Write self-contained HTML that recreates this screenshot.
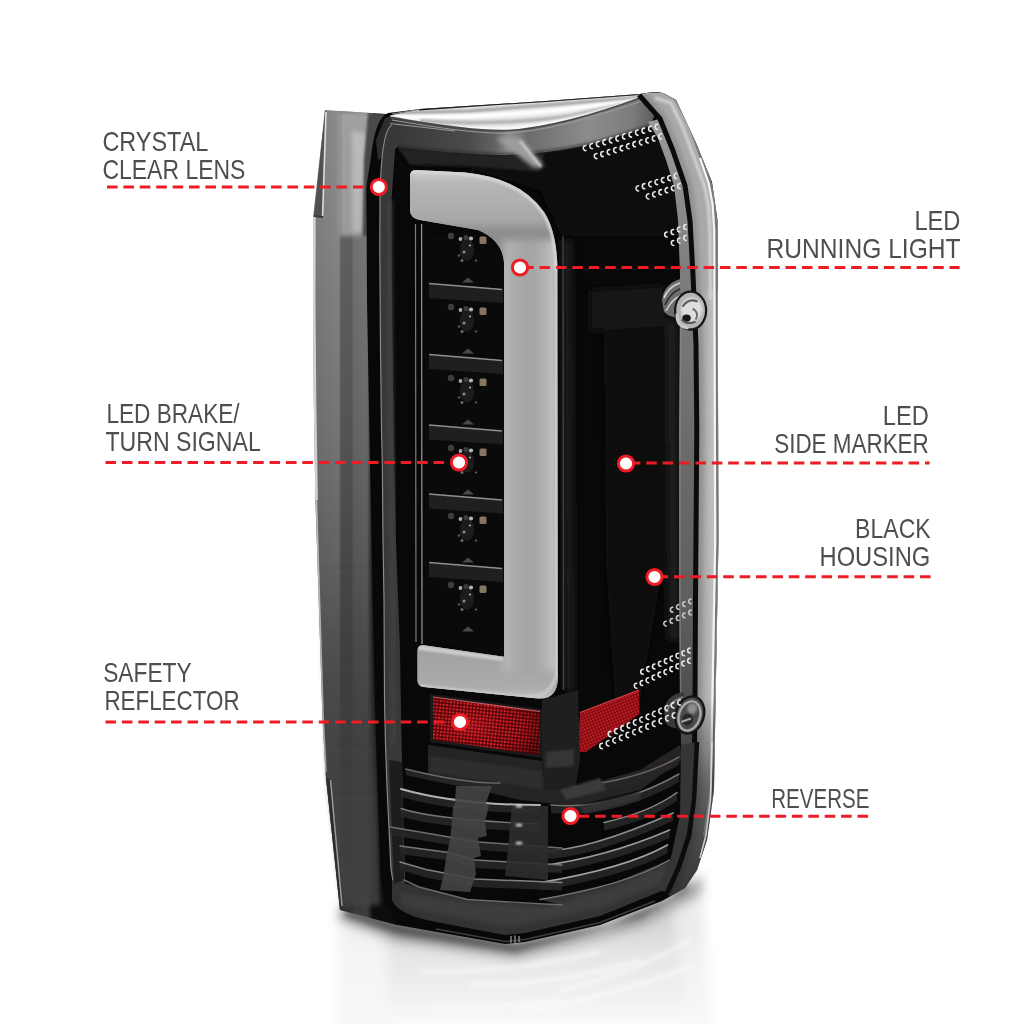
<!DOCTYPE html>
<html><head><meta charset="utf-8"><title>LED Tail Light Features</title>
<style>
html,body{margin:0;padding:0;background:#fff;}
body{width:1024px;height:1024px;overflow:hidden;font-family:"Liberation Sans",sans-serif;}
svg{display:block}
</style></head><body>
<svg width="1024" height="1024" viewBox="0 0 1024 1024">
<rect width="1024" height="1024" fill="#fff"/>

<defs>
<filter id="b1" x="-20%" y="-20%" width="140%" height="140%"><feGaussianBlur stdDeviation="1"/></filter>
<filter id="b2" x="-20%" y="-20%" width="140%" height="140%"><feGaussianBlur stdDeviation="2"/></filter>
<filter id="b3" x="-20%" y="-20%" width="140%" height="140%"><feGaussianBlur stdDeviation="3.5"/></filter>
<filter id="b6" x="-30%" y="-30%" width="160%" height="160%"><feGaussianBlur stdDeviation="6"/></filter>
<filter id="b12" x="-30%" y="-60%" width="160%" height="220%"><feGaussianBlur stdDeviation="12"/></filter>
<linearGradient id="gFl" gradientUnits="userSpaceOnUse" x1="313" x2="373" y1="0" y2="0">
 <stop offset="0" stop-color="#7c7c7c"/><stop offset=".075" stop-color="#828282"/>
 <stop offset=".43" stop-color="#8a8a8a"/><stop offset=".47" stop-color="#646464"/><stop offset=".64" stop-color="#626262"/><stop offset=".68" stop-color="#767676"/><stop offset=".9" stop-color="#7c7c7c"/><stop offset=".96" stop-color="#444"/><stop offset="1" stop-color="#1a1a1a"/>
</linearGradient>
<linearGradient id="gFlV" gradientUnits="userSpaceOnUse" x1="0" x2="0" y1="110" y2="925">
 <stop offset="0" stop-color="#000" stop-opacity="0"/><stop offset=".15" stop-color="#000" stop-opacity=".04"/>
 <stop offset=".4" stop-color="#000" stop-opacity=".16"/><stop offset=".6" stop-color="#000" stop-opacity=".32"/>
 <stop offset=".75" stop-color="#000" stop-opacity=".46"/><stop offset=".86" stop-color="#000" stop-opacity=".56"/><stop offset="1" stop-color="#000" stop-opacity=".5"/>
</linearGradient>
<linearGradient id="gBarV" x1="0" x2="1" y1="0" y2="0">
 <stop offset="0" stop-color="#c9c9c9"/><stop offset=".12" stop-color="#a9a9a9"/><stop offset=".5" stop-color="#a2a2a2"/>
 <stop offset=".82" stop-color="#b4b4b4"/><stop offset="1" stop-color="#d0d0d0"/>
</linearGradient>
<linearGradient id="gRightEdge" x1="0" x2="1" y1="0" y2="0">
 <stop offset="0" stop-color="#8e8e8e"/><stop offset=".55" stop-color="#b4b4b4"/><stop offset=".75" stop-color="#e8e8e8"/><stop offset=".9" stop-color="#bdbdbd"/><stop offset="1" stop-color="#6a6a6a"/>
</linearGradient>
<pattern id="pRed" width="3.4" height="3.4" patternUnits="userSpaceOnUse" patternTransform="rotate(6)">
 <rect width="3.4" height="3.4" fill="#4c0509"/><circle cx="1.7" cy="1.7" r="1.15" fill="#ea2630"/>
</pattern>
<pattern id="pRed2" width="3" height="3" patternUnits="userSpaceOnUse" patternTransform="rotate(-22)">
 <rect width="3" height="3" fill="#6a090e"/><circle cx="1.5" cy="1.5" r="1.0" fill="#e42630"/>
</pattern>
</defs>

<defs><linearGradient id="gRef" gradientUnits="userSpaceOnUse" x1="0" x2="0" y1="925" y2="1030"><stop offset="0" stop-color="#d6d6d6"/><stop offset=".3" stop-color="#e6e6e6"/><stop offset=".7" stop-color="#f1f1f1"/><stop offset="1" stop-color="#fcfcfc"/></linearGradient></defs>
<g filter="url(#b6)"><path d="M342 905 L520 940 L640 915 L700 884 L712 1040 L334 1040 Z" fill="url(#gRef)"/><path d="M338 915 L386 930 L390 1040 L336 1040 Z" fill="#f8f8f8" opacity=".8"/><path d="M672 905 L704 880 L716 1040 L690 1040 Z" fill="#f8f8f8" opacity=".6"/></g>
<g filter="url(#b2)" opacity=".7" stroke="#fff" fill="none" stroke-width="3"><path d="M560 990 Q630 975 690 940"/><path d="M520 1012 Q620 995 694 965"/><path d="M470 985 Q560 985 640 960"/><path d="M430 1005 Q500 1008 560 1000"/><path d="M420 972 Q520 972 600 952"/></g>
<g filter="url(#b6)"><path d="M338 908 L400 926 L515 946 L610 926 L668 901 L702 874 L700 894 L640 926 L515 958 L395 940 L340 920 Z" fill="#8a8a8a" opacity=".8"/></g>
<g filter="url(#b3)"><path d="M345 908 L400 924 L515 944 L610 924 L668 899 L690 882 L686 892 L640 918 L515 952 L398 934 L345 916 Z" fill="#3a3a3a" opacity=".8"/></g>
<path d="M325 110 L386 114 L400 160 L400 900 L397 925 L340 910 L325.7 775 L322.5 719 L318.5 594 L315.4 500 L313.8 400 L313 300 L313.2 216 Z" fill="url(#gFl)"/>
<clipPath id="cFl"><path d="M325 110 L386 114 L400 160 L400 900 L397 925 L340 910 L325.7 775 L322.5 719 L318.5 594 L315.4 500 L313.8 400 L313 300 L313.2 216 Z"/></clipPath><g clip-path="url(#cFl)">
<path d="M339 111 L372 113 L366 160 L362 236 L339 236 Z" fill="#a0a0a0" filter="url(#b2)"/>
<path d="M352 130 L366 135 L362 232 L352 232 Z" fill="#bcbcbc" filter="url(#b2)"/>
<path d="M368 113 L386 114 L372 150 L367 236 L363 236 L364 160 Z" fill="#4a4a4a" filter="url(#b1)"/>
</g>
<path d="M325 110 L314 216 L322.5 216 L326.5 112 Z" fill="#525252"/>
<path d="M326 112 L322.6 216" stroke="#e2e2e2" stroke-width="1.6"/>
<path d="M314 216 L323 217" stroke="#3a3a3a" stroke-width="2"/>
<path d="M325 110 L386 114 L400 160 L400 900 L397 925 L340 910 L325.7 775 L322.5 719 L318.5 594 L315.4 500 L313.8 400 L313 300 L313.2 216 Z" fill="url(#gFlV)"/>
<path d="M314.4 217 L314.2 300 L315 400 L316.6 500" stroke="#dcdcdc" stroke-width="2.6" fill="none" opacity=".9"/>
<path d="M316.4 500 L319.3 594 L323.2 719 L326.2 772" stroke="#c4c4c4" stroke-width="1.6" fill="none" opacity=".9"/>
<defs><linearGradient id="gFlLow" gradientUnits="userSpaceOnUse" x1="0" x2="0" y1="560" y2="800"><stop offset="0" stop-color="#484848" stop-opacity="0"/><stop offset="1" stop-color="#424242" stop-opacity=".85"/></linearGradient></defs>
<path d="M319 560 L372 560 L380 905 L342 906 L327 775 Z" fill="url(#gFlLow)" filter="url(#b2)"/>
<path d="M326 778 L330 779 L342 908 L340 910 Z" fill="#2c2c2c"/>
<path d="M330.5 780 L342 906" stroke="#9a9a9a" stroke-width="1.5"/>
<path d="M372 150 Q376 118 388 113 L420 109 L546 101 L640 94 Q655 91 663 93 L676 100 L697 145 L712 182 L717.5 220 L718.5 540 L714 790 L707 840 L697 870 L685 888 L662 901 L600 925 L525 942 L505 944 L397 925 L386 905 L380.7 880 L378 800 L375.4 722 L374 650 L371.5 540 L370 462 L367 300 L366.4 187 Z" fill="#080808"/>
<defs>
<linearGradient id="gTopLens" x1="0" x2="0" y1="0" y2="1">
 <stop offset="0" stop-color="#fafafa"/><stop offset=".3" stop-color="#e9e9e9"/><stop offset=".5" stop-color="#bdbdbd"/><stop offset=".72" stop-color="#f4f4f4"/><stop offset="1" stop-color="#c4c4c4"/>
</linearGradient>
<linearGradient id="gBevel" gradientUnits="userSpaceOnUse" x1="385" x2="660" y1="0" y2="0">
 <stop offset="0" stop-color="#2c2c2c"/><stop offset=".06" stop-color="#3a3a3a"/><stop offset=".3" stop-color="#4a4a4a"/><stop offset=".4" stop-color="#626262"/><stop offset=".45" stop-color="#8c8c8c"/><stop offset=".52" stop-color="#6c6c6c"/>
 <stop offset=".74" stop-color="#8c8c8c"/><stop offset=".9" stop-color="#7c7c7c"/><stop offset="1" stop-color="#555"/>
</linearGradient>
<linearGradient id="gStrip" gradientUnits="userSpaceOnUse" x1="0" x2="0" y1="130" y2="900">
 <stop offset="0" stop-color="#989898"/><stop offset=".18" stop-color="#7e7e7e"/><stop offset=".4" stop-color="#6c6c6c"/><stop offset=".62" stop-color="#5e5e5e"/><stop offset=".8" stop-color="#464646"/><stop offset="1" stop-color="#333"/>
</linearGradient>
<linearGradient id="gEdgeR" gradientUnits="userSpaceOnUse" x1="698" x2="719" y1="0" y2="0">
 <stop offset="0" stop-color="#a2a2a2"/><stop offset=".55" stop-color="#b6b6b6"/><stop offset=".7" stop-color="#c4c4c4"/><stop offset="1" stop-color="#b0b0b0"/>
</linearGradient>
<linearGradient id="gEdgeRV" gradientUnits="userSpaceOnUse" x1="0" x2="0" y1="90" y2="900">
 <stop offset="0" stop-color="#000" stop-opacity="0"/><stop offset=".75" stop-color="#000" stop-opacity="0"/><stop offset=".86" stop-color="#000" stop-opacity=".45"/><stop offset="1" stop-color="#000" stop-opacity=".7"/>
</linearGradient>
<linearGradient id="gBar" gradientUnits="userSpaceOnUse" x1="504" x2="558" y1="0" y2="0">
 <stop offset="0" stop-color="#c4c4c4"/><stop offset=".1" stop-color="#adadad"/><stop offset=".5" stop-color="#a4a4a4"/><stop offset=".8" stop-color="#b2b2b2"/><stop offset=".94" stop-color="#cbcbcb"/><stop offset="1" stop-color="#9c9c9c"/>
</linearGradient>
<linearGradient id="gBarTop" gradientUnits="userSpaceOnUse" x1="0" x2="0" y1="168" y2="232">
 <stop offset="0" stop-color="#d2d2d2"/><stop offset=".25" stop-color="#b6b6b6"/><stop offset=".8" stop-color="#a8a8a8"/><stop offset="1" stop-color="#8e8e8e"/>
</linearGradient>
<linearGradient id="gBarBot" gradientUnits="userSpaceOnUse" x1="0" x2="0" y1="640" y2="700">
 <stop offset="0" stop-color="#c2c2c2"/><stop offset=".2" stop-color="#a2a2a2"/><stop offset=".8" stop-color="#acacac"/><stop offset="1" stop-color="#c6c6c6"/>
</linearGradient>
<linearGradient id="gFrameL" gradientUnits="userSpaceOnUse" x1="376" x2="396" y1="0" y2="0">
 <stop offset="0" stop-color="#111"/><stop offset=".2" stop-color="#161616"/><stop offset=".24" stop-color="#8a8a8a"/><stop offset=".3" stop-color="#333"/><stop offset=".8" stop-color="#3a3a3a"/><stop offset="1" stop-color="#141414"/>
</linearGradient>
<radialGradient id="gRedGlow" cx=".35" cy=".5" r=".7">
 <stop offset="0" stop-color="#ff2a34" stop-opacity=".32"/><stop offset=".55" stop-color="#900" stop-opacity=".08"/><stop offset="1" stop-color="#200" stop-opacity=".5"/>
</radialGradient>
<filter id="b05"><feGaussianBlur stdDeviation=".55"/></filter>
<clipPath id="cBody"><path d="M372 150 Q376 118 388 113 L420 109 L546 101 L640 94 Q655 91 663 93 L676 100 L697 145 L712 182 L717.5 220 L718.5 540 L714 790 L707 840 L697 870 L685 888 L662 901 L600 925 L525 942 L505 944 L397 925 L386 905 L380.7 880 L378 800 L375.4 722 L374 650 L371.5 540 L370 462 L367 300 L366.4 187 Z"/></clipPath>
</defs>
<g clip-path="url(#cBody)">
<path d="M397 147 L474 154 L522 155 L582 146 L650 126 L690 200 L680 236 L562 236 L540 190 L470 168 L410 166 Z" fill="#101010" filter="url(#b2)"/>
<path d="M397 147 L474 154 L522 155 L545 152 L540 172 L470 166 L410 164 Z" fill="#242424" filter="url(#b1)"/>
<g filter="url(#b3)"><path d="M604 322 L662 320 L664 560 L640 700 L615 700 L606 560 Z" fill="#0f0f0f"/><path d="M665 320 L678 318 L680 640 L668 640 Z" fill="#1c1c1c"/><path d="M590 290 L664 285 L668 326 L590 331 Z" fill="#141414"/><path d="M562 240 L572 240 L574 690 L564 690 Z" fill="#1e1e1e"/></g>
<path d="M563 236 L563.5 690" stroke="#4a4a4a" stroke-width="1.4" opacity=".85"/>
<path d="M385 118 L391 116 C420 122 460 130 500 130.5 C540 131 600 113 640 96 L656 112 L650 126 L610 139 Q560 154 500 155 Q460 154 397 147 L378 160 L376 140 Z" fill="url(#gBevel)"/>
<path d="M397 146 Q460 153 500 154 Q560 153 610 138 L650 125" stroke="#2a2a2a" stroke-width="2.5" fill="none" opacity=".6" filter="url(#b1)"/>
<path d="M496 138 L520 137 L544 166 L534 168 Z" fill="#9c9c9c" filter="url(#b2)"/>
<path d="M520 141 L541 167" stroke="#d0d0d0" stroke-width="2.2" filter="url(#b1)"/>
<path d="M390 115.5 L419 109.5 L546 101 L640 94 L662 93 L640 98 C600 113 540 131 500 130.5 C460 130 420 122 391 117.5 Z" fill="#e9e9e9"/>
<clipPath id="cLens"><path d="M390 115.5 L419 109.5 L546 101 L640 94 L662 93 L640 98 C600 113 540 131 500 130.5 C460 130 420 122 391 117.5 Z"/></clipPath>
<g clip-path="url(#cLens)" fill="none"><path d="M395 113 L470 111 L560 104 L660 96" stroke="#a8a8a8" stroke-width="3.5" filter="url(#b1)"/><path d="M395 116.5 Q470 119 560 110 L650 99" stroke="#ffffff" stroke-width="4" filter="url(#b1)"/><path d="M420 121 Q500 126 570 116 L640 101" stroke="#b4b4b4" stroke-width="4" filter="url(#b1)"/><path d="M400 121 C440 128 480 130 510 128.5 C550 126 600 112 640 99" stroke="#fbfbfb" stroke-width="3.2" filter="url(#b1)"/></g>
<path d="M419 109.3 L546 100.8 L640 93.8 L661 92.6" stroke="#1c1c1c" stroke-width="2.2" fill="none"/>
<path d="M391 117.5 C420 122 460 130 500 130.7 C540 131 600 113 640 98" stroke="#4a4a4a" stroke-width="1.8" fill="none"/>
<path d="M392 120 C420 124.5 460 132.5 500 133.2 C540 133.5 600 115.5 645 100" stroke="#9a9a9a" stroke-width="1.1" fill="none"/>
<path d="M392 114 L419 109.5" stroke="#888" stroke-width="1.2"/>
<path d="M648 122 L657.8 138 L666 160 L674 185.5 L678 220 L680 275 L679.7 345 L679 430 L679 600 L679.5 650 L681 745 L694.5 745 L695 700 L695.5 600 L696.8 430 L696 345 L693 275 L690 220.6 L685 185.5 L672.7 150 L660 118.7 Z" fill="url(#gStrip)"/>
<path d="M681 300 L680.6 345 L680 430 L680 600 L680.5 700" stroke="#8a8a8a" stroke-width="1.5" fill="none" opacity=".6"/>
<path d="M638 93 L664 92.3 Q673 95 678 101 L690 124 L702.6 159 L711.4 182 L715.8 203 L717.5 230 L718.5 540 L714 790 L707 840 L697 870 L685 888 L672 897 L667 893 L679 866 L689 835 L694 790 L695 700 L695.5 600 L696.8 430 L696 345 L693 275 L690 220.6 L685 185.5 L672.7 150 L660 118.7 L639 95 Z" fill="#a9a9a9"/>
<clipPath id="cBand"><path d="M638 93 L664 92.3 Q673 95 678 101 L690 124 L702.6 159 L711.4 182 L715.8 203 L717.5 230 L718.5 540 L714 790 L707 840 L697 870 L685 888 L672 897 L667 893 L679 866 L689 835 L694 790 L695 700 L695.5 600 L696.8 430 L696 345 L693 275 L690 220.6 L685 185.5 L672.7 150 L660 118.7 L639 95 Z"/></clipPath>
<g clip-path="url(#cBand)" fill="none"><rect x="696" y="290" width="26" height="520" fill="url(#gEdgeR)" filter="url(#b2)"/><path d="M639 95 L660 118.7 L672.7 150 L685 185.5 L690 220.6 L693 275 L696 345 L696.8 430 L695.5 600 L695 700 L694 790 L689 835 L679 866 L667 893" stroke="#8a8a8a" stroke-width="14" filter="url(#b2)" opacity=".8"/><path d="M655 98 L671 103 L683 128 L696 163 L704.5 186 L708.5 206 L710 232 L710.5 300" stroke="#d2d2d2" stroke-width="3.2" filter="url(#b1)"/><path d="M664 93.5 Q673 96 677 102 L689 125 L701.6 160 L710.4 183 L714.6 204 L716.3 230 L717.3 540 L712.8 790 L706 838" stroke="#767676" stroke-width="2"/><path d="M700 158 L708.6 183 L712.6 204 L714.2 230 L715.2 540 L710.8 790 L704 836" stroke="#f4f4f4" stroke-width="2.2" filter="url(#b05)"/><path d="M640 90 L730 90 L730 910 L640 910 Z" fill="url(#gEdgeRV)"/></g>
<path d="M639 95 L660 118.7 L672.7 150 L685 185.5 L690 220.6 L693 275 L696 345 L696.8 430 L695.5 600 L695 700 L694 790 L689 835 L679 866 L667 893" stroke="#0b0b0b" stroke-width="5" fill="none" stroke-linejoin="round"/>
<path d="M392 125 Q381 130 380 200 L379.8 250 L380.5 350 L381.5 430 L382.3 462 L383 540 L384 600 L384.5 700 L385.5 745 L387 787 L391 869 L397 906 L404 900 L405 880 L403 800 L401.5 740 L400 650 L396 540 L394 462 L392 300 L391.5 200 L395 150 L397 147 L398 128 Z" fill="#383838"/>
<path d="M389 200 L388.8 250 L389.5 350 L390.5 430 L391.3 462 L392 540 L393 600 L393.5 700 L394.5 745" stroke="#404040" stroke-width="6" fill="none" filter="url(#b2)"/>
<path d="M392 125 Q381 130 380 200 L379.8 250 L380.5 350 L381.5 430 L382.3 462 L383 540 L384 600 L384.5 700 L385.5 745 L387 787 L391 869 L397 906" stroke="#8c8c8c" stroke-width="1.15" fill="none"/>
<path d="M390 123.5 L455 131" stroke="#9a9a9a" stroke-width="1" fill="none"/>
<path d="M415.5 224 L416 642" stroke="#7c7c7c" stroke-width="1.2"/>
<path d="M421.6 224 L422 644" stroke="#9a9a9a" stroke-width="1.2"/>
<path d="M425 232 L504 250 L504 657 L425 640 Z" fill="#0a0a0a"/>
<path d="M429 283 L503 289 L503 303 L429 298 Z" fill="#1f1f1f"/>
<path d="M429 283.5 L502 289.5" stroke="#8e8e8e" stroke-width="1.4"/>
<path d="M429 354 L503 360 L503 374 L429 369 Z" fill="#1f1f1f"/>
<path d="M429 354.5 L502 360.5" stroke="#8e8e8e" stroke-width="1.4"/>
<path d="M429 424.5 L503 430.5 L503 444.5 L429 439.5 Z" fill="#1f1f1f"/>
<path d="M429 425.0 L502 431.0" stroke="#8e8e8e" stroke-width="1.4"/>
<path d="M429 493.5 L503 499.5 L503 513.5 L429 508.5 Z" fill="#1f1f1f"/>
<path d="M429 494.0 L502 500.0" stroke="#8e8e8e" stroke-width="1.4"/>
<path d="M429 562 L503 568 L503 582 L429 577 Z" fill="#1f1f1f"/>
<path d="M429 562.5 L502 568.5" stroke="#8e8e8e" stroke-width="1.4"/>
<g filter="url(#b05)"><ellipse cx="467" cy="249.5" rx="7" ry="11" fill="#1f1f1f"/><rect x="479.5" y="236.5" width="7" height="7.5" rx="1.5" fill="#85775f"/><circle cx="451" cy="236.0" r="3.2" fill="#3e3e3e"/><circle cx="460.5" cy="239.0" r="1.9" fill="#a8a8a8"/><circle cx="471" cy="238.5" r="2.1" fill="#b4b4b4"/><circle cx="466" cy="237.5" r="2.6" fill="#3a3a3a"/><circle cx="470" cy="245.5" r="1.1" fill="#aaa"/><circle cx="464" cy="252.0" r="1.5" fill="#8a8a8a"/><circle cx="459" cy="255.5" r="1.3" fill="#555"/><circle cx="462" cy="260.5" r="1.5" fill="#6a6a6a"/><circle cx="476" cy="260.5" r="1.1" fill="#666"/><path d="M462 282.5 L468 277.5 L474 282.5 Z" fill="#4a4a4a"/></g>
<g filter="url(#b05)"><ellipse cx="467" cy="320.5" rx="7" ry="11" fill="#1f1f1f"/><rect x="479.5" y="307.5" width="7" height="7.5" rx="1.5" fill="#85775f"/><circle cx="451" cy="307.0" r="3.2" fill="#3e3e3e"/><circle cx="460.5" cy="310.0" r="1.9" fill="#a8a8a8"/><circle cx="471" cy="309.5" r="2.1" fill="#b4b4b4"/><circle cx="466" cy="308.5" r="2.6" fill="#3a3a3a"/><circle cx="470" cy="316.5" r="1.1" fill="#aaa"/><circle cx="464" cy="323.0" r="1.5" fill="#8a8a8a"/><circle cx="459" cy="326.5" r="1.3" fill="#555"/><circle cx="462" cy="331.5" r="1.5" fill="#6a6a6a"/><circle cx="476" cy="331.5" r="1.1" fill="#666"/><path d="M462 353.5 L468 348.5 L474 353.5 Z" fill="#4a4a4a"/></g>
<g filter="url(#b05)"><ellipse cx="467" cy="391.5" rx="7" ry="11" fill="#1f1f1f"/><rect x="479.5" y="378.5" width="7" height="7.5" rx="1.5" fill="#85775f"/><circle cx="451" cy="378.0" r="3.2" fill="#3e3e3e"/><circle cx="460.5" cy="381.0" r="1.9" fill="#a8a8a8"/><circle cx="471" cy="380.5" r="2.1" fill="#b4b4b4"/><circle cx="466" cy="379.5" r="2.6" fill="#3a3a3a"/><circle cx="470" cy="387.5" r="1.1" fill="#aaa"/><circle cx="464" cy="394.0" r="1.5" fill="#8a8a8a"/><circle cx="459" cy="397.5" r="1.3" fill="#555"/><circle cx="462" cy="402.5" r="1.5" fill="#6a6a6a"/><circle cx="476" cy="402.5" r="1.1" fill="#666"/><path d="M462 424.5 L468 419.5 L474 424.5 Z" fill="#4a4a4a"/></g>
<g filter="url(#b05)"><ellipse cx="467" cy="461.5" rx="7" ry="11" fill="#1f1f1f"/><rect x="479.5" y="448.5" width="7" height="7.5" rx="1.5" fill="#85775f"/><circle cx="451" cy="448.0" r="3.2" fill="#3e3e3e"/><circle cx="460.5" cy="451.0" r="1.9" fill="#a8a8a8"/><circle cx="471" cy="450.5" r="2.1" fill="#b4b4b4"/><circle cx="466" cy="449.5" r="2.6" fill="#3a3a3a"/><circle cx="470" cy="457.5" r="1.1" fill="#aaa"/><circle cx="464" cy="464.0" r="1.5" fill="#8a8a8a"/><circle cx="459" cy="467.5" r="1.3" fill="#555"/><circle cx="462" cy="472.5" r="1.5" fill="#6a6a6a"/><circle cx="476" cy="472.5" r="1.1" fill="#666"/><path d="M462 494.5 L468 489.5 L474 494.5 Z" fill="#4a4a4a"/></g>
<g filter="url(#b05)"><ellipse cx="467" cy="529.5" rx="7" ry="11" fill="#1f1f1f"/><rect x="479.5" y="516.5" width="7" height="7.5" rx="1.5" fill="#85775f"/><circle cx="451" cy="516.0" r="3.2" fill="#3e3e3e"/><circle cx="460.5" cy="519.0" r="1.9" fill="#a8a8a8"/><circle cx="471" cy="518.5" r="2.1" fill="#b4b4b4"/><circle cx="466" cy="517.5" r="2.6" fill="#3a3a3a"/><circle cx="470" cy="525.5" r="1.1" fill="#aaa"/><circle cx="464" cy="532.0" r="1.5" fill="#8a8a8a"/><circle cx="459" cy="535.5" r="1.3" fill="#555"/><circle cx="462" cy="540.5" r="1.5" fill="#6a6a6a"/><circle cx="476" cy="540.5" r="1.1" fill="#666"/><path d="M462 562.5 L468 557.5 L474 562.5 Z" fill="#4a4a4a"/></g>
<g filter="url(#b05)"><ellipse cx="467" cy="598.5" rx="7" ry="11" fill="#1f1f1f"/><rect x="479.5" y="585.5" width="7" height="7.5" rx="1.5" fill="#85775f"/><circle cx="451" cy="585.0" r="3.2" fill="#3e3e3e"/><circle cx="460.5" cy="588.0" r="1.9" fill="#a8a8a8"/><circle cx="471" cy="587.5" r="2.1" fill="#b4b4b4"/><circle cx="466" cy="586.5" r="2.6" fill="#3a3a3a"/><circle cx="470" cy="594.5" r="1.1" fill="#aaa"/><circle cx="464" cy="601.0" r="1.5" fill="#8a8a8a"/><circle cx="459" cy="604.5" r="1.3" fill="#555"/><circle cx="462" cy="609.5" r="1.5" fill="#6a6a6a"/><circle cx="476" cy="609.5" r="1.1" fill="#666"/><path d="M462 631.5 L468 626.5 L474 631.5 Z" fill="#4a4a4a"/></g>
<path d="M410 176 Q410 170 416 170 L465 172.5 Q520 178 544 212 Q557 232 557.5 270 L558 676 Q558 700 538 698.5 L424 687 Q417.5 686.5 417.5 680 L417.5 651 Q417.5 644.5 424 645.3 L504 656.8 L504 262 Q502 240 478 230 L420 220 Q410 218 410 210 Z" fill="#a8a8a8"/>
<clipPath id="cBar"><path d="M410 176 Q410 170 416 170 L465 172.5 Q520 178 544 212 Q557 232 557.5 270 L558 676 Q558 700 538 698.5 L424 687 Q417.5 686.5 417.5 680 L417.5 651 Q417.5 644.5 424 645.3 L504 656.8 L504 262 Q502 240 478 230 L420 220 Q410 218 410 210 Z"/></clipPath>
<g clip-path="url(#cBar)"><path d="M405 165 L470 168 Q524 176 548 210 L562 240 L500 262 Q498 240 470 230 L405 218 Z" fill="url(#gBarTop)"/><path d="M412 636 L504 655 L560 668 L560 702 L412 690 Z" fill="url(#gBarBot)"/><g filter="url(#b3)"><rect x="504" y="240" width="54" height="432" fill="url(#gBar)"/></g><path d="M505.5 262 L505.5 656" stroke="#c9c9c9" stroke-width="2.5" filter="url(#b1)"/><path d="M556 262 L556.5 676" stroke="#cdcdcd" stroke-width="3" filter="url(#b1)"/><path d="M417.5 647.5 L503 659" stroke="#cfcfcf" stroke-width="4" filter="url(#b1)"/><path d="M411 171.5 L466 174 Q520 180 543 213 Q555.5 232 556 270" stroke="#d8d8d8" stroke-width="3" fill="none" filter="url(#b1)"/><path d="M419 650 L419 684" stroke="#cfcfcf" stroke-width="2.5" filter="url(#b1)"/><path d="M420 686 L525 697 Q552 698 557 672" stroke="#c9c9c9" stroke-width="3" fill="none" filter="url(#b1)"/></g>
<path d="M430 694 L542 709 L542 758 L430 742 Z" fill="#1a1a1a"/>
<path d="M433 697 L540 711.5 L540 755 L433 739.5 Z" fill="url(#pRed)"/>
<path d="M433 697 L540 711.5 L540 755 L433 739.5 Z" fill="url(#gRedGlow)"/>
<path d="M433 697 L540 711.5" stroke="#c85a5e" stroke-width="1.2"/>
<path d="M580 712.5 L639 690 L639.5 714 L586 752 L578 752 Z" fill="url(#pRed2)"/>
<path d="M580 712.5 L639 690 L639.5 714 L586 752 L578 752 Z" fill="#d01018" opacity=".12"/>
<path d="M580 712.5 L639 690" stroke="#ff5058" stroke-width="1.2" opacity=".8"/>
</g>
<g clip-path="url(#cBody)">
<path d="M542 700 L578 690 L580 760 L575 790 L545 792 L542 760 Z" fill="#1f1f1f"/>
<path d="M546 752 L574 749 L574 766 L546 768 Z" fill="#343434" filter="url(#b1)"/>
<path d="M428 745 L542 761 L545 790 L575 788 L640 770 L680 745 L682 760 L640 790 L575 806 L520 800 L428 778 Z" fill="#242424"/>
<path d="M430 756 L542 771 L542 789 L430 772 Z" fill="#2f2f2f" filter="url(#b1)"/>
<path d="M392 880 L419 887 L467 899.5 L540 904 L562 905 L540 899.5 L615 882.6 L669 860 L684 852 L664 890 L600 916 L525 933 L505 935 L436 922 Q398 915 392 900 Z" fill="#333333"/>
<path d="M400 893 L467 903 L545 907 L615 887 L668 864 L660 884 L600 908 L525 924 L505 926 L440 914 L402 905 Z" fill="#3d3d3d" filter="url(#b2)"/>
<path d="M436 929 L505 941.5 L525 939.5 L600 922.5 L655 901" stroke="#3c3c3c" stroke-width="1.6" fill="none"/>
<path d="M511 936 L511 943 M515 935.5 L515 943 M519 936 L519 942" stroke="#a0a0a0" stroke-width="1.2" fill="none" filter="url(#b05)"/>
<path d="M389 760 L402 762 L404 880 L394 884 Z" fill="#1d1d1d"/>
<path d="M574 787 Q641.5 779.2 679 757 L679 765 Q641.5 787.2 574 795 Z" fill="#272727" opacity=".9"/>
<path d="M574 787 Q641.5 779.2 679 757" stroke="#6e6262" stroke-width="1.5" fill="none" stroke-linecap="round"/>
<path d="M551 805 Q615.0 810.5 679 774 L679 782 Q615.0 818.5 551 813 Z" fill="#272727" opacity=".9"/>
<path d="M551 805 Q615.0 810.5 679 774" stroke="#7a7070" stroke-width="1.5" fill="none" stroke-linecap="round"/>
<path d="M604 822.5 Q649.5 812.5 677 792.5 L677 800.5 Q649.5 820.5 604 830.5 Z" fill="#272727" opacity=".9"/>
<path d="M604 822.5 Q649.5 812.5 677 792.5" stroke="#8a8a8a" stroke-width="1.5" fill="none" stroke-linecap="round"/>
<path d="M540 851 Q585.5 852.0 673 813 L673 821 Q585.5 860.0 540 859 Z" fill="#272727" opacity=".9"/>
<path d="M540 851 Q585.5 852.0 673 813" stroke="#8e8e8e" stroke-width="1.7" fill="none" stroke-linecap="round"/>
<path d="M540 866 Q607.2 857.0 669.5 830 L669.5 838 Q607.2 865.0 540 874 Z" fill="#272727" opacity=".9"/>
<path d="M540 866 Q607.2 857.0 669.5 830" stroke="#9a9a9a" stroke-width="1.8" fill="none" stroke-linecap="round"/>
<path d="M540 882.6 Q626.2 868.2 667.5 845 L667.5 853 Q626.2 876.2 540 890.6 Z" fill="#272727" opacity=".9"/>
<path d="M540 882.6 Q626.2 868.2 667.5 845" stroke="#a2a2a2" stroke-width="1.8" fill="none" stroke-linecap="round"/>
<path d="M540 899.5 Q625.2 885.5 669.5 860" stroke="#777" stroke-width="1.4" fill="none" stroke-linecap="round"/>
<path d="M405.6 769 Q467.2 784.0 500 783 L500 789 Q467.2 790.0 405.6 775 Z" fill="#272727" opacity=".9"/>
<path d="M405.6 769 Q467.2 784.0 500 783" stroke="#6a6a6a" stroke-width="1.3" fill="none" stroke-linecap="round"/>
<path d="M401 789 Q457.5 805.0 540 805 L540 813 Q457.5 813.0 401 797 Z" fill="#272727" opacity=".9"/>
<path d="M401 789 Q457.5 805.0 540 805" stroke="#b0b0b0" stroke-width="2.0" fill="none" stroke-linecap="round"/>
<path d="M401 808.5 Q434.5 819.8 540 824 L540 832 Q434.5 827.8 401 816.5 Z" fill="#272727" opacity=".9"/>
<path d="M401 808.5 Q434.5 819.8 540 824" stroke="#777" stroke-width="1.4" fill="none" stroke-linecap="round"/>
<path d="M390.6 827 L452 837.5 L479 842 L562 848 L562 856 L479 850 L452 845.5 L390.6 835 Z" fill="#272727" opacity=".9"/>
<path d="M390.6 827 L452 837.5 L479 842 L562 848" stroke="#6e6e6e" stroke-width="1.4" fill="none" stroke-linecap="round"/>
<path d="M400 846 L449 852.5 L475 860 L562 865 L562 873 L475 868 L449 860.5 L400 854 Z" fill="#272727" opacity=".9"/>
<path d="M400 846 L449 852.5 L475 860 L562 865" stroke="#777" stroke-width="1.4" fill="none" stroke-linecap="round"/>
<path d="M400 862 L426 869.5 L475 879 L562 882.6 L562 890.6 L475 887 L426 877.5 L400 870 Z" fill="#272727" opacity=".9"/>
<path d="M400 862 L426 869.5 L475 879 L562 882.6" stroke="#808080" stroke-width="1.5" fill="none" stroke-linecap="round"/>
<path d="M404 880 L419 887 L467.5 899.5 L562 905" stroke="#6a6a6a" stroke-width="1.4" fill="none" stroke-linecap="round"/>
<path d="M456 786 L492 786 L486 803 L489 806 L485 822 L487 836 L478 838 L481 856 L474 858 L476 874 L470 892 L440 890 L444 872 L446 858 L450 840 L452 822 L453 806 L455 803 Z" fill="#454545" opacity=".9"/>
<path d="M512 806 L548 806 L548 880 L505 876 L508 850 L510 826 Z" fill="#2e2e2e" opacity=".9"/>
<ellipse cx="519" cy="806" rx="3.5" ry="1.6" fill="#e8e8e8" opacity=".85" filter="url(#b1)"/>
<ellipse cx="519" cy="825" rx="3.5" ry="1.6" fill="#e8e8e8" opacity=".85" filter="url(#b1)"/>
<ellipse cx="519" cy="843" rx="3.5" ry="1.6" fill="#e8e8e8" opacity=".85" filter="url(#b1)"/>
<path d="M560 790 L600 778 L606 790 L566 800 Z" fill="#3a3a3a" filter="url(#b1)"/>
<path d="M580 806 L640 792 L640 800 L585 814 Z" fill="#333" filter="url(#b1)"/>
<path d="M681 745 L696 742 L694 790 L689 830 L678 866 L666 892 L658 890 L670 862 L680 815 Z" fill="#353535"/>
<path d="M697 742 L694 800 L689 835 L679 866 L667 893" stroke="#0c0c0c" stroke-width="4.5" fill="none"/>
<path d="M712 742 L710.5 800 L706 835 L700 858" stroke="#e0e0e0" stroke-width="1.6" fill="none" opacity=".85"/>
<path d="M662 300 Q664 284 680 279 L682 318 Q670 318 664 312 Z" fill="#6e6e6e"/>
<g fill="none" filter="url(#b05)"><path d="M664 298 Q668 287 680 283" stroke="#d0d0d0" stroke-width="1.8"/><path d="M665 305 Q670 293 680 289" stroke="#2a2a2a" stroke-width="1.6"/><path d="M666 311 Q671 300 680 296" stroke="#c4c4c4" stroke-width="1.8"/></g>
<g><ellipse cx="690.6" cy="310.6" rx="15.5" ry="19" fill="#b4b4b4"/><ellipse cx="690.6" cy="310.6" rx="15.5" ry="19" fill="none" stroke="#161616" stroke-width="2.2"/><path d="M677.1 313.6 Q676.1 326.6 688.6 328.1" stroke="#c8c8c8" stroke-width="3" fill="none" filter="url(#b05)"/><ellipse cx="691.6" cy="309.6" rx="10.5" ry="12" fill="#dedede" filter="url(#b1)"/><path d="M682.6 306.6 Q688.6 297.6 697.6 301.6" stroke="#5c5c5c" stroke-width="2" fill="none" filter="url(#b05)"/><path d="M692.6 308.6 Q699.6 312.6 695.6 319.6" stroke="#6a6a6a" stroke-width="1.8" fill="none" filter="url(#b05)"/><ellipse cx="686.6" cy="318.1" rx="4.2" ry="3.6" fill="#161616" filter="url(#b05)"/><path d="M681.6 319.6 Q687.6 325.6 695.6 321.6" stroke="#555" stroke-width="2" fill="none" filter="url(#b05)"/></g>
<path d="M664 708 Q668 694 684 692 L684 728 Q670 730 665 722 Z" fill="#3a3a3a"/>
<path d="M666 712 Q671 700 683 697" stroke="#8a8a8a" stroke-width="1.6" fill="none" filter="url(#b05)"/>
<g transform="rotate(18 689.8 715)"><ellipse cx="689.8" cy="715" rx="14" ry="19" fill="#4a4a4a"/><ellipse cx="689.8" cy="715" rx="14" ry="19" fill="none" stroke="#141414" stroke-width="2.2"/><ellipse cx="689.8" cy="716" rx="10.5" ry="15" fill="none" stroke="#b4b4b4" stroke-width="2.2" filter="url(#b05)"/><ellipse cx="690" cy="708" rx="5" ry="5.5" fill="#8c8c8c" filter="url(#b1)"/><ellipse cx="689" cy="720" rx="5.5" ry="6" fill="#262626" filter="url(#b05)"/><path d="M684 724 L692 718" stroke="#bdbdbd" stroke-width="1.6" filter="url(#b05)"/></g>
<g stroke="#e6e6e6" stroke-width="1.55" fill="none" opacity="1" stroke-linecap="round"><path d="M585.9 145.4 A2.6 2.6 0 1 0 585.9 150.6" /><path d="M592.4 143.5 A2.6 2.6 0 1 0 592.4 148.7" /><path d="M599.0 141.5 A2.6 2.6 0 1 0 599.0 146.7" /><path d="M605.5 139.6 A2.6 2.6 0 1 0 605.5 144.8" /><path d="M612.0 137.7 A2.6 2.6 0 1 0 612.0 142.9" /><path d="M618.5 135.8 A2.6 2.6 0 1 0 618.5 141.0" /><path d="M625.1 133.8 A2.6 2.6 0 1 0 625.1 139.0" /><path d="M631.6 131.9 A2.6 2.6 0 1 0 631.6 137.1" /><path d="M638.1 130.0 A2.6 2.6 0 1 0 638.1 135.2" /><path d="M644.6 128.1 A2.6 2.6 0 1 0 644.6 133.3" /><path d="M651.2 126.1 A2.6 2.6 0 1 0 651.2 131.3" /><path d="M657.7 124.2 A2.6 2.6 0 1 0 657.7 129.4" /></g>
<g stroke="#e6e6e6" stroke-width="1.55" fill="none" opacity="1" stroke-linecap="round"><path d="M596.9 153.4 A2.6 2.6 0 1 0 596.9 158.6" /><path d="M603.3 151.4 A2.6 2.6 0 1 0 603.3 156.6" /><path d="M609.8 149.5 A2.6 2.6 0 1 0 609.8 154.7" /><path d="M616.2 147.5 A2.6 2.6 0 1 0 616.2 152.7" /><path d="M622.7 145.6 A2.6 2.6 0 1 0 622.7 150.8" /><path d="M629.1 143.6 A2.6 2.6 0 1 0 629.1 148.8" /><path d="M635.5 141.6 A2.6 2.6 0 1 0 635.5 146.8" /><path d="M642.0 139.7 A2.6 2.6 0 1 0 642.0 144.9" /><path d="M648.4 137.7 A2.6 2.6 0 1 0 648.4 142.9" /><path d="M654.9 135.8 A2.6 2.6 0 1 0 654.9 141.0" /><path d="M661.3 133.8 A2.6 2.6 0 1 0 661.3 139.0" /></g>
<g stroke="#e6e6e6" stroke-width="1.55" fill="none" opacity="1" stroke-linecap="round"><path d="M638.6 185.7 A2.6 2.6 0 1 0 638.6 190.9" /><path d="M644.9 183.6 A2.6 2.6 0 1 0 644.9 188.8" /><path d="M651.3 181.6 A2.6 2.6 0 1 0 651.3 186.8" /><path d="M657.6 179.5 A2.6 2.6 0 1 0 657.6 184.7" /><path d="M664.0 177.4 A2.6 2.6 0 1 0 664.0 182.6" /><path d="M670.3 175.4 A2.6 2.6 0 1 0 670.3 180.6" /><path d="M676.7 173.3 A2.6 2.6 0 1 0 676.7 178.5" /></g>
<g stroke="#e6e6e6" stroke-width="1.55" fill="none" opacity="1" stroke-linecap="round"><path d="M648.9 193.8 A2.6 2.6 0 1 0 648.9 199.0" /><path d="M655.2 191.7 A2.6 2.6 0 1 0 655.2 196.9" /><path d="M661.5 189.6 A2.6 2.6 0 1 0 661.5 194.8" /><path d="M667.7 187.6 A2.6 2.6 0 1 0 667.7 192.8" /><path d="M674.0 185.5 A2.6 2.6 0 1 0 674.0 190.7" /><path d="M680.3 183.4 A2.6 2.6 0 1 0 680.3 188.6" /></g>
<g stroke="#e6e6e6" stroke-width="1.55" fill="none" opacity="1" stroke-linecap="round"><path d="M667.2 232.0 A2.5 2.5 0 1 0 667.2 237.0" /><path d="M673.6 229.5 A2.5 2.5 0 1 0 673.6 234.5" /><path d="M679.9 227.0 A2.5 2.5 0 1 0 679.9 232.0" /><path d="M686.2 224.5 A2.5 2.5 0 1 0 686.2 229.5" /></g>
<g stroke="#e6e6e6" stroke-width="1.55" fill="none" opacity="1" stroke-linecap="round"><path d="M673.8 240.5 A2.5 2.5 0 1 0 673.8 245.5" /><path d="M680.0 238.0 A2.5 2.5 0 1 0 680.0 243.0" /><path d="M686.2 235.5 A2.5 2.5 0 1 0 686.2 240.5" /></g>
<g stroke="#c8c8c8" stroke-width="1.55" fill="none" opacity="1" stroke-linecap="round"><path d="M672.8 607.3 A2.4 2.4 0 1 0 672.8 612.1" /><path d="M678.9 604.5 A2.4 2.4 0 1 0 678.9 609.3" /><path d="M685.1 601.7 A2.4 2.4 0 1 0 685.1 606.5" /><path d="M691.2 598.9 A2.4 2.4 0 1 0 691.2 603.7" /></g>
<g stroke="#c8c8c8" stroke-width="1.55" fill="none" opacity="1" stroke-linecap="round"><path d="M666.2 621.2 A2.4 2.4 0 1 0 666.2 626.0" /><path d="M672.5 618.4 A2.4 2.4 0 1 0 672.5 623.2" /><path d="M678.7 615.6 A2.4 2.4 0 1 0 678.7 620.4" /><path d="M685.0 612.9 A2.4 2.4 0 1 0 685.0 617.7" /><path d="M691.2 610.1 A2.4 2.4 0 1 0 691.2 614.9" /></g>
<g stroke="#e6e6e6" stroke-width="1.55" fill="none" opacity="1" stroke-linecap="round"><path d="M643.2 669.3 A2.5 2.5 0 1 0 643.2 674.3" /><path d="M649.1 666.6 A2.5 2.5 0 1 0 649.1 671.6" /><path d="M655.0 664.0 A2.5 2.5 0 1 0 655.0 669.0" /><path d="M660.9 661.3 A2.5 2.5 0 1 0 660.9 666.3" /><path d="M666.8 658.6 A2.5 2.5 0 1 0 666.8 663.6" /><path d="M672.6 656.0 A2.5 2.5 0 1 0 672.6 661.0" /><path d="M678.5 653.3 A2.5 2.5 0 1 0 678.5 658.3" /><path d="M684.4 650.7 A2.5 2.5 0 1 0 684.4 655.7" /><path d="M690.2 648.0 A2.5 2.5 0 1 0 690.2 653.0" /></g>
<g stroke="#e6e6e6" stroke-width="1.55" fill="none" opacity="1" stroke-linecap="round"><path d="M636.8 683.3 A2.5 2.5 0 1 0 636.8 688.3" /><path d="M642.7 680.5 A2.5 2.5 0 1 0 642.7 685.5" /><path d="M648.6 677.7 A2.5 2.5 0 1 0 648.6 682.7" /><path d="M654.6 674.9 A2.5 2.5 0 1 0 654.6 679.9" /><path d="M660.5 672.1 A2.5 2.5 0 1 0 660.5 677.1" /><path d="M666.5 669.4 A2.5 2.5 0 1 0 666.5 674.4" /><path d="M672.4 666.6 A2.5 2.5 0 1 0 672.4 671.6" /><path d="M678.4 663.8 A2.5 2.5 0 1 0 678.4 668.8" /><path d="M684.3 661.0 A2.5 2.5 0 1 0 684.3 666.0" /><path d="M690.2 658.2 A2.5 2.5 0 1 0 690.2 663.2" /></g>
<g stroke="#e6e6e6" stroke-width="1.55" fill="none" opacity="1" stroke-linecap="round"><path d="M610.9 731.3 A2.7 2.7 0 1 0 610.9 736.7" /><path d="M617.2 728.4 A2.7 2.7 0 1 0 617.2 733.8" /><path d="M623.5 725.6 A2.7 2.7 0 1 0 623.5 731.0" /><path d="M629.8 722.7 A2.7 2.7 0 1 0 629.8 728.1" /><path d="M636.1 719.8 A2.7 2.7 0 1 0 636.1 725.2" /><path d="M642.4 716.9 A2.7 2.7 0 1 0 642.4 722.3" /><path d="M648.8 714.1 A2.7 2.7 0 1 0 648.8 719.5" /><path d="M655.1 711.2 A2.7 2.7 0 1 0 655.1 716.6" /><path d="M661.4 708.3 A2.7 2.7 0 1 0 661.4 713.7" /><path d="M667.7 705.4 A2.7 2.7 0 1 0 667.7 710.8" /><path d="M674.0 702.6 A2.7 2.7 0 1 0 674.0 708.0" /><path d="M680.4 699.7 A2.7 2.7 0 1 0 680.4 705.1" /></g>
<g stroke="#e6e6e6" stroke-width="1.55" fill="none" opacity="1" stroke-linecap="round"><path d="M602.4 743.3 A2.7 2.7 0 1 0 602.4 748.7" /><path d="M608.9 740.5 A2.7 2.7 0 1 0 608.9 745.9" /><path d="M615.5 737.7 A2.7 2.7 0 1 0 615.5 743.1" /><path d="M622.1 735.0 A2.7 2.7 0 1 0 622.1 740.4" /><path d="M628.7 732.2 A2.7 2.7 0 1 0 628.7 737.6" /><path d="M635.3 729.4 A2.7 2.7 0 1 0 635.3 734.8" /><path d="M641.9 726.6 A2.7 2.7 0 1 0 641.9 732.0" /><path d="M648.5 723.8 A2.7 2.7 0 1 0 648.5 729.2" /><path d="M655.1 721.0 A2.7 2.7 0 1 0 655.1 726.4" /><path d="M661.7 718.3 A2.7 2.7 0 1 0 661.7 723.7" /><path d="M668.3 715.5 A2.7 2.7 0 1 0 668.3 720.9" /><path d="M674.9 712.7 A2.7 2.7 0 1 0 674.9 718.1" /></g>
</g>
<g id="anno">
<path d="M107 187 H366" stroke="#ee1c25" stroke-width="3" stroke-dasharray="10.6 5.8" stroke-dashoffset="0" fill="none"/>
<circle cx="378.8" cy="187" r="7.6" fill="#fff" stroke="#ee1c25" stroke-width="3"/>
<path d="M523.1 267.5 H959.6" stroke="#ee1c25" stroke-width="3" stroke-dasharray="10.6 5.8" stroke-dashoffset="0" fill="none"/>
<circle cx="520" cy="267.5" r="7.6" fill="#fff" stroke="#ee1c25" stroke-width="3"/>
<path d="M105.5 462.5 H446" stroke="#ee1c25" stroke-width="3" stroke-dasharray="10.6 5.8" stroke-dashoffset="0" fill="none"/>
<circle cx="459" cy="462.5" r="7.6" fill="#fff" stroke="#ee1c25" stroke-width="3"/>
<path d="M629.8 463 H929.6" stroke="#ee1c25" stroke-width="3" stroke-dasharray="10.6 5.8" stroke-dashoffset="0" fill="none"/>
<circle cx="626" cy="463.5" r="7.6" fill="#fff" stroke="#ee1c25" stroke-width="3"/>
<path d="M657.6 576.8 H930.6" stroke="#ee1c25" stroke-width="3" stroke-dasharray="10.6 5.8" stroke-dashoffset="0" fill="none"/>
<circle cx="654.5" cy="577" r="7.6" fill="#fff" stroke="#ee1c25" stroke-width="3"/>
<path d="M105.5 722 H447" stroke="#ee1c25" stroke-width="3" stroke-dasharray="10.6 5.8" stroke-dashoffset="0" fill="none"/>
<circle cx="460" cy="722" r="7.6" fill="#fff" stroke="#ee1c25" stroke-width="3"/>
<path d="M578.7 816.2 H868.9" stroke="#ee1c25" stroke-width="3" stroke-dasharray="10.6 5.8" stroke-dashoffset="0" fill="none"/>
<circle cx="570.5" cy="816" r="7.6" fill="#fff" stroke="#ee1c25" stroke-width="3"/>
<g fill="#4c4c4c" font-size="27.2px" opacity=".99" font-family="'Liberation Sans', sans-serif">
<text x="102.4" y="150.8" textLength="106" lengthAdjust="spacingAndGlyphs" text-anchor="start">CRYSTAL</text>
<text x="102.4" y="178.8" textLength="143" lengthAdjust="spacingAndGlyphs" text-anchor="start">CLEAR LENS</text>
<text x="960.4" y="230" textLength="46" lengthAdjust="spacingAndGlyphs" text-anchor="end">LED</text>
<text x="960.6" y="258" textLength="194" lengthAdjust="spacingAndGlyphs" text-anchor="end">RUNNING LIGHT</text>
<text x="106.4" y="423" textLength="133.2" lengthAdjust="spacingAndGlyphs" text-anchor="start">LED BRAKE/</text>
<text x="105.4" y="451" textLength="155.4" lengthAdjust="spacingAndGlyphs" text-anchor="start">TURN SIGNAL</text>
<text x="928.8" y="424.5" textLength="46" lengthAdjust="spacingAndGlyphs" text-anchor="end">LED</text>
<text x="928.8" y="452.5" textLength="154.6" lengthAdjust="spacingAndGlyphs" text-anchor="end">SIDE MARKER</text>
<text x="930.7" y="538" textLength="75.6" lengthAdjust="spacingAndGlyphs" text-anchor="end">BLACK</text>
<text x="930.3" y="566" textLength="110.8" lengthAdjust="spacingAndGlyphs" text-anchor="end">HOUSING</text>
<text x="103.2" y="682" textLength="88.4" lengthAdjust="spacingAndGlyphs" text-anchor="start">SAFETY</text>
<text x="104.4" y="710" textLength="135.2" lengthAdjust="spacingAndGlyphs" text-anchor="start">REFLECTOR</text>
<text x="869.4" y="808" textLength="98.2" lengthAdjust="spacingAndGlyphs" text-anchor="end">REVERSE</text>
</g></g>
</svg>
</body></html>
